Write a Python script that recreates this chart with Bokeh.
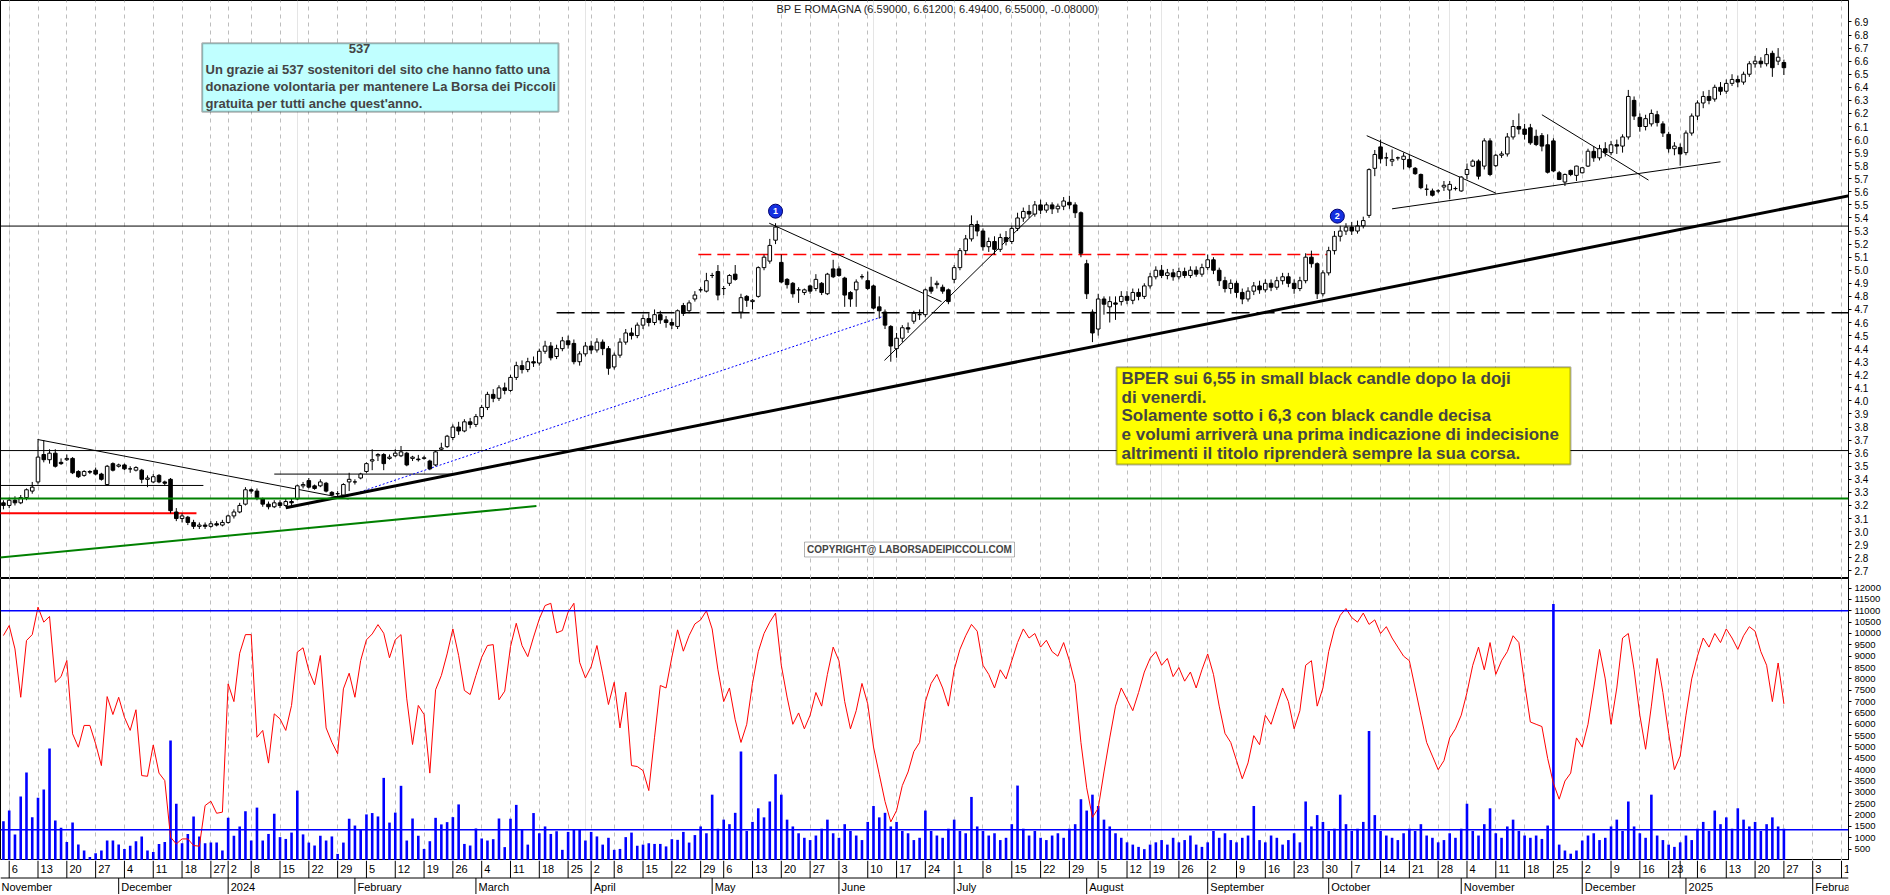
import pandas as pd
from bokeh.plotting import figure
from bokeh.models import (Range1d, FixedTicker, Grid, Span, BoxAnnotation, Label,
                          ColumnDataSource, NumeralTickFormatter)
from bokeh.layouts import column
from bokeh.embed import file_html
from bokeh.resources import INLINE
from bokeh.core.properties import value

TITLE = "BP E ROMAGNA (6.59000, 6.61200, 6.49400, 6.55000, -0.08000)"
HOLIDAYS = ["2023-12-25", "2023-12-26", "2024-01-01", "2024-03-29", "2024-04-01",
            "2024-05-01", "2024-08-15", "2024-12-24", "2024-12-25", "2024-12-26",
            "2024-12-31", "2025-01-01"]
FIRST_BAR = "2023-11-03"   # first candle; bar index 0 = 2023-11-06

# daily candles (open, high, low, close)
OHLC_2023_11 = [(3.22,3.24,3.17,3.20),(3.20,3.26,3.18,3.24),(3.24,3.27,3.20,3.22),(3.22,3.28,3.21,3.26),
    (3.26,3.33,3.24,3.32),(3.31,3.38,3.29,3.34),(3.38,3.70,3.36,3.57),(3.59,3.70,3.53,3.55),
    (3.55,3.63,3.52,3.60),(3.60,3.63,3.49,3.50),(3.53,3.56,3.51,3.52),(3.55,3.59,3.54,3.56),
    (3.56,3.57,3.44,3.45),(3.46,3.47,3.41,3.42),(3.43,3.47,3.42,3.46),(3.46,3.47,3.44,3.455),
    (3.47,3.49,3.43,3.44),(3.44,3.45,3.39,3.40),(3.36,3.51,3.35,3.50),(3.52,3.53,3.46,3.47)]
OHLC_2023_12 = [(3.50,3.52,3.49,3.51),(3.51,3.52,3.47,3.48),(3.48,3.50,3.45,3.48),(3.47,3.50,3.46,3.49),
    (3.47,3.48,3.37,3.40),(3.40,3.43,3.34,3.41),(3.38,3.44,3.37,3.42),(3.43,3.44,3.37,3.38),
    (3.38,3.39,3.35,3.37),(3.40,3.41,3.14,3.16),(3.15,3.18,3.08,3.10),(3.10,3.14,3.07,3.12),
    (3.11,3.12,3.05,3.07),(3.07,3.09,3.02,3.04),(3.04,3.07,3.02,3.05),(3.05,3.07,3.02,3.04),
    (3.04,3.08,3.03,3.06),(3.06,3.08,3.04,3.05),(3.05,3.09,3.04,3.07)]
OHLC_2024_01 = [(3.07,3.13,3.06,3.12),(3.12,3.17,3.10,3.15),(3.15,3.22,3.14,3.20),(3.21,3.34,3.20,3.32),
    (3.32,3.33,3.29,3.31),(3.31,3.33,3.24,3.26),(3.25,3.26,3.19,3.21),(3.21,3.23,3.17,3.19),
    (3.19,3.24,3.18,3.22),(3.22,3.24,3.18,3.20),(3.20,3.25,3.19,3.23),(3.23,3.25,3.20,3.22),
    (3.25,3.36,3.24,3.35),(3.35,3.38,3.33,3.36),(3.39,3.41,3.33,3.34),(3.35,3.36,3.32,3.33),
    (3.35,3.40,3.34,3.38),(3.37,3.38,3.30,3.31),(3.30,3.31,3.27,3.28),(3.29,3.31,3.27,3.29),
    (3.28,3.37,3.27,3.36),(3.38,3.45,3.31,3.40)]
OHLC_2024_02 = [(3.38,3.40,3.36,3.38),(3.41,3.45,3.40,3.44),(3.46,3.53,3.45,3.52),(3.54,3.63,3.47,3.55),
    (3.58,3.60,3.54,3.59),(3.59,3.60,3.47,3.52),(3.56,3.59,3.55,3.57),(3.58,3.63,3.57,3.60),
    (3.58,3.655,3.57,3.61),(3.60,3.61,3.50,3.51),(3.56,3.58,3.54,3.57),(3.555,3.587,3.536,3.55),
    (3.56,3.58,3.55,3.565),(3.54,3.55,3.47,3.48),(3.51,3.62,3.50,3.61),(3.63,3.68,3.62,3.64),
    (3.65,3.74,3.64,3.73),(3.72,3.82,3.70,3.80),(3.80,3.84,3.74,3.77),(3.77,3.86,3.76,3.84),
    (3.84,3.87,3.79,3.82)]
OHLC_2024_03 = [(3.82,3.90,3.80,3.88),(3.88,3.97,3.86,3.95),(3.95,4.07,3.93,4.05),(4.05,4.09,3.99,4.02),
    (4.02,4.12,4.00,4.10),(4.10,4.14,4.05,4.08),(4.08,4.20,4.07,4.18),(4.18,4.30,4.16,4.27),
    (4.27,4.31,4.21,4.24),(4.24,4.33,4.22,4.30),(4.30,4.34,4.26,4.29),(4.29,4.40,4.27,4.38),
    (4.38,4.46,4.36,4.42),(4.42,4.45,4.31,4.33),(4.34,4.43,4.32,4.40),(4.40,4.49,4.38,4.46),
    (4.46,4.50,4.40,4.43),(4.44,4.47,4.28,4.30),(4.30,4.38,4.27,4.36),(4.36,4.45,4.34,4.42)]
OHLC_2024_04 = [(4.42,4.46,4.36,4.39),(4.39,4.48,4.37,4.45),(4.45,4.47,4.35,4.40),(4.40,4.42,4.20,4.25),
    (4.26,4.37,4.24,4.35),(4.35,4.48,4.33,4.45),(4.45,4.55,4.43,4.52),(4.52,4.56,4.47,4.50),
    (4.50,4.60,4.48,4.58),(4.58,4.66,4.55,4.63),(4.63,4.67,4.57,4.60),(4.60,4.70,4.58,4.66),
    (4.66,4.69,4.59,4.62),(4.62,4.65,4.56,4.60),(4.60,4.63,4.55,4.58),(4.57,4.70,4.55,4.69),
    (4.73,4.75,4.65,4.67),(4.69,4.77,4.67,4.75),(4.78,4.84,4.76,4.81),(4.85,4.87,4.83,4.85),
    (4.84,4.98,4.83,4.92)]
OHLC_2024_05 = [(4.96,4.98,4.94,4.96),(4.99,5.04,4.77,4.81),(4.86,4.88,4.81,4.86),(4.90,4.97,4.88,4.96),
    (4.97,5.04,4.92,4.93),(4.68,4.82,4.63,4.79),(4.80,4.81,4.72,4.77),(4.76,4.78,4.70,4.77),
    (4.80,5.03,4.79,5.02),(5.02,5.12,5.00,5.10),(5.07,5.24,5.05,5.19),(5.23,5.36,5.20,5.33),
    (5.06,5.12,4.90,4.91),(4.93,4.94,4.86,4.89),(4.90,4.91,4.79,4.82),(4.85,4.87,4.75,4.85),
    (4.83,4.86,4.81,4.85),(4.88,4.89,4.82,4.84),(4.86,4.97,4.84,4.93),(4.90,4.91,4.81,4.83),
    (4.82,4.98,4.81,4.97),(5.01,5.08,4.94,4.95)]
OHLC_2024_06 = [(5.01,5.03,4.95,4.96),(4.94,4.95,4.72,4.81),(4.83,4.84,4.72,4.78),(4.85,4.93,4.72,4.91),
    (4.95,4.97,4.93,4.95),(4.92,4.99,4.85,4.86),(4.88,4.89,4.70,4.71),(4.72,4.80,4.63,4.69),
    (4.68,4.70,4.55,4.58),(4.57,4.58,4.30,4.42),(4.40,4.52,4.33,4.48),(4.48,4.58,4.45,4.56),
    (4.56,4.60,4.52,4.55),(4.61,4.69,4.59,4.67),(4.66,4.70,4.62,4.66),(4.66,4.86,4.64,4.85),
    (4.87,4.95,4.82,4.84),(4.89,4.92,4.86,4.90),(4.87,4.89,4.82,4.84),(4.85,4.86,4.74,4.76)]
OHLC_2024_07 = [(4.93,5.04,4.90,5.02),(5.02,5.17,5.00,5.15),(5.15,5.27,5.12,5.24),(5.24,5.42,5.22,5.35),
    (5.35,5.38,5.26,5.30),(5.30,5.32,5.15,5.18),(5.18,5.25,5.14,5.22),(5.22,5.26,5.12,5.16),
    (5.16,5.28,5.14,5.25),(5.25,5.30,5.19,5.22),(5.22,5.34,5.20,5.32),(5.32,5.44,5.30,5.40),
    (5.40,5.48,5.37,5.45),(5.45,5.50,5.40,5.43),(5.43,5.53,5.41,5.50),(5.50,5.54,5.43,5.46),
    (5.46,5.52,5.44,5.50),(5.50,5.52,5.43,5.47),(5.47,5.51,5.44,5.49),(5.49,5.56,5.46,5.53),
    (5.52,5.57,5.47,5.50),(5.50,5.52,5.40,5.44),(5.44,5.45,5.10,5.13)]
OHLC_2024_08 = [(5.05,5.08,4.78,4.82),(4.68,4.70,4.45,4.52),(4.55,4.82,4.50,4.78),(4.78,4.80,4.66,4.74),
    (4.72,4.80,4.60,4.76),(4.75,4.80,4.62,4.74),(4.76,4.84,4.73,4.80),(4.80,4.84,4.74,4.77),
    (4.77,4.86,4.74,4.83),(4.83,4.86,4.77,4.80),(4.80,4.90,4.78,4.88),(4.88,4.98,4.86,4.95),
    (4.95,5.03,4.93,5.00),(5.00,5.04,4.94,4.96),(4.96,5.01,4.93,4.98),(4.98,5.01,4.92,4.95),
    (4.95,5.02,4.93,4.99),(4.99,5.02,4.94,4.96),(4.96,5.03,4.94,5.00),(5.00,5.03,4.95,4.97),
    (4.97,5.05,4.95,5.02)]
OHLC_2024_09 = [(5.02,5.12,5.00,5.08),(5.08,5.10,4.97,5.00),(5.00,5.02,4.88,4.92),(4.92,4.95,4.83,4.86),
    (4.86,4.93,4.82,4.90),(4.90,4.92,4.79,4.83),(4.83,4.86,4.74,4.78),(4.78,4.87,4.76,4.84),
    (4.84,4.91,4.81,4.88),(4.88,4.92,4.82,4.85),(4.85,4.93,4.83,4.90),(4.90,4.93,4.84,4.87),
    (4.87,4.95,4.85,4.92),(4.92,4.98,4.89,4.95),(4.95,4.98,4.87,4.90),(4.90,4.93,4.82,4.86),
    (4.86,4.95,4.84,4.92),(4.92,5.13,4.90,5.10),(5.10,5.15,5.02,5.05),(5.05,5.06,4.78,4.82),
    (4.82,5.00,4.80,4.98)]
OHLC_2024_10 = [(4.98,5.18,4.96,5.15),(5.15,5.30,5.12,5.26),(5.26,5.34,5.22,5.30),(5.30,5.36,5.27,5.33),
    (5.33,5.37,5.27,5.30),(5.30,5.38,5.28,5.34),(5.34,5.41,5.32,5.38),(5.42,5.78,5.40,5.77),
    (5.78,5.92,5.72,5.886),(5.944,6.00,5.817,5.853),(5.86,5.90,5.797,5.86),(5.835,5.924,5.797,5.848),
    (5.86,5.87,5.84,5.86),(5.848,5.90,5.771,5.873),(5.848,5.886,5.78,5.79),(5.78,5.79,5.73,5.739),
    (5.733,5.74,5.62,5.632),(5.62,5.657,5.57,5.62),(5.607,5.625,5.564,5.574),(5.607,5.62,5.59,5.607),
    (5.637,5.683,5.607,5.65),(5.614,5.683,5.543,5.657),(5.625,5.64,5.61,5.625)]
OHLC_2024_11 = [(5.607,5.72,5.60,5.713),(5.733,5.817,5.695,5.771),(5.797,5.848,5.79,5.835),(5.835,5.848,5.695,5.72),
    (5.797,6.01,5.771,5.99),(5.99,6.01,5.72,5.733),(5.80,5.89,5.79,5.88),(5.88,5.91,5.86,5.89),
    (5.89,6.05,5.87,6.02),(6.02,6.15,6.00,6.10),(6.10,6.20,6.04,6.08),(6.08,6.12,6.00,6.04),
    (6.09,6.12,5.96,5.975),(6.025,6.076,5.95,5.962),(6.03,6.05,5.91,5.95),(5.96,6.04,5.74,5.75),
    (5.99,6.01,5.75,5.76),(5.746,5.76,5.69,5.695),(5.675,5.74,5.645,5.733),(5.764,5.77,5.72,5.733),
    (5.726,5.80,5.683,5.797)]
OHLC_2024_12 = [(5.746,5.79,5.74,5.784),(5.797,5.93,5.79,5.911),(5.91,5.95,5.83,5.86),(5.86,5.96,5.84,5.93),
    (5.93,5.98,5.87,5.90),(5.90,5.99,5.88,5.96),(5.96,6.00,5.89,5.95),(5.95,6.04,5.90,6.02),
    (6.02,6.38,6.00,6.33),(6.30,6.33,6.15,6.18),(6.17,6.20,6.06,6.10),(6.10,6.19,6.07,6.16),
    (6.12,6.23,6.10,6.20),(6.19,6.22,6.10,6.13),(6.12,6.14,6.02,6.05),(6.04,6.06,5.90,5.93),
    (5.93,5.98,5.88,5.95),(5.94,5.97,5.80,5.89)]
OHLC_2025_01 = [(5.90,6.07,5.88,6.05),(6.05,6.20,6.03,6.18),(6.18,6.30,6.15,6.28),(6.28,6.37,6.24,6.33),
    (6.33,6.38,6.27,6.30),(6.31,6.42,6.29,6.40),(6.40,6.44,6.34,6.37),(6.37,6.46,6.35,6.43),
    (6.43,6.50,6.41,6.46),(6.46,6.49,6.40,6.44),(6.44,6.52,6.42,6.50),(6.50,6.60,6.48,6.58),
    (6.58,6.64,6.55,6.60),(6.60,6.63,6.55,6.58),(6.58,6.70,6.56,6.65),(6.66,6.68,6.48,6.55),
    (6.60,6.70,6.57,6.63),(6.59,6.612,6.494,6.55)]

# daily volume (panel units) and the red oscillator (same scale)
VOL_2023_11 = [1730,2200,1150,2820,3880,1910,2760,3130,4930,1760,1440,810,1670,700,440,150,320,440,880,880]
VOL_2023_12 = [700,510,650,850,1060,440,370,730,820,5290,2500,760,1170,1940,1060,760,790,790,440]
VOL_2024_01 = [1880,1090,1500,2170,880,2330,880,1170,2060,1030,950,1230,3080,1150,790,660,1090,880,1060,290,790,1840]
VOL_2024_02 = [1540,1350,2030,2090,1940,3640,1670,2110,3290,880,1850,1090,510,850,1880,1590,1690,1910,2470,730,660]
VOL_2024_03 = [1410,970,880,940,1850,590,1840,2450,1350,700,2090,1200,1500,1170,1290,470,1260,1350,1350,880]
VOL_2024_04 = [1260,1060,700,1000,470,510,1030,1230,650,700,760,730,730,620,940,910,1260,790,1120,1500,1200]
VOL_2024_05 = [2900,1400,1800,1600,2100,4800,1300,1700,2300,1900,2600,3800,2900,1800,1500,1200,1000,900,1100,1400,1800,1200]
VOL_2024_06 = [1000,1600,1300,1100,900,1700,2400,1900,2100,1500,1700,1300,1200,900,1000,2200,1300,1100,1000,1400]
VOL_2024_07 = [1800,1300,1200,2800,1500,1300,1100,1200,900,1000,1600,3300,1400,1100,1300,1000,900,1100,1200,1000,1400,1600,2700]
VOL_2024_08 = [2200,2900,2400,1800,1500,1200,1000,800,700,600,500,700,800,900,700,1000,800,900,1100,700,600]
VOL_2024_09 = [800,1300,1000,1200,900,800,1000,1100,2400,900,800,1100,1000,700,900,1200,800,2600,1500,2000,1700]
VOL_2024_10 = [1300,1400,2900,1600,1300,1400,1700,5700,2000,1300,1100,1000,900,1200,1400,1300,1600,1100,1000,800,900,1200,1000]
VOL_2024_11 = [1400,2500,1300,1100,1600,2300,1200,1000,1500,1800,1300,1100,1000,1100,950,1540,11300,700,440,300,440]
VOL_2024_12 = [880,1100,1200,900,1000,1500,1800,1300,2600,1500,1200,1000,2900,1100,900,700,600,800]
VOL_2025_01 = [1100,900,1400,1700,1300,2200,1600,1900,1400,2300,1800,1500,1700,1300,1600,1900,1500,1400]

OSC_2023_11 = [9910,10350,9320,7190,9690,9950,11160,10500,10750,7850,8100,8810,5580,4990,5950,5950,5140,4180,7220,6430]
OSC_2023_12 = [7190,6310,5730,6640,3740,3710,5090,3850,3520,1030,730,950,950,660,630,2420,2610,2080,2130]
OSC_2024_01 = [7780,7000,9130,9950,9950,5430,5730,4290,6460,6240,5730,6830,9180,9370,8370,7740,9030,5840,5210,4700,7560,8250]
OSC_2024_02 = [7190,8810,9720,9980,10390,10010,8930,9720,9950,7120,5110,6830,6430,3850,7520,8150,9100,10200,9030,7490,7310]
OSC_2024_03 = [8150,8950,9470,9510,7080,7460,9420,10450,9470,8980,9840,10640,11230,11330,10030,10130,10940,11330,8730,8040]
OSC_2024_04 = [8540,9470,8220,6870,7850,5840,7410,4180,4140,3960,3080,5430,7710,7600,8950,10160,9220,9910,10420,10600,11000]
OSC_2024_05 = [10200,8400,7000,7600,6200,5200,6000,7800,9200,10000,10500,10900,8600,7200,6000,6500,5800,6400,7400,6800,8200,9400]
OSC_2024_06 = [8800,7000,5800,6600,7800,6900,5000,3800,2600,1700,2200,3300,3900,4800,5200,7000,7800,8200,7600,6800]
OSC_2024_07 = [8400,9300,9900,10400,10100,8600,8200,7600,8400,8000,8800,9600,10200,9800,10000,9400,9700,9200,9000,9600,8800,7800,5200]
OSC_2024_08 = [3200,1900,2300,3900,5400,6800,7600,7100,6600,7400,8300,8900,9200,8600,8900,8100,8500,7900,8300,7600,8400]
OSC_2024_09 = [9100,8200,6800,5600,5200,4400,3600,4300,5500,5100,6400,6000,6800,7600,7000,5800,6600,8600,8800,6800,7600]
OSC_2024_10 = [9200,10200,10800,11100,10700,10500,10900,10400,10600,10000,10300,9800,9400,9000,8800,7600,6400,5200,4600,4000,4400,5400,5800]
OSC_2024_11 = [6400,7400,8600,9400,8400,9600,8200,8800,9200,9900,9600,7800,6100,6000,5900,4500,3400,2700,3500,3850,5400]
OSC_2024_12 = [5000,6000,7600,9300,8000,6000,7600,9800,10000,8400,6400,4900,6800,8900,7400,5600,4000,4600]
OSC_2025_01 = [6400,8000,9000,9800,9400,10000,9600,10200,9800,9300,9900,10300,10100,9200,8600,7000,8700,6900]

VOL_UPPER, VOL_LOWER = 11000, 1350
PRICE_TICKS = [round(2.7 + 0.1 * i, 1) for i in range(43)]
VOL_TICKS = list(range(500, 12001, 500))

# analyst drawings: (bar index, price)
H_RESIST = 5.338
H_MID = 3.62
H_GREEN = 3.254
DASH_BLACK = ([95, 320], [4.674, 4.674])
DASH_RED = ([119.6, 229.0], [5.12, 5.12])
TL_THICK = ([48, 322], [3.182, 5.594])
TL_NOV23 = ([4.9, 58.9], [3.705, 3.249])
TL_BLUE = ([58.9, 151.9], [3.274, 4.65])
TL_MAY = ([131.9, 161.8], [5.36, 4.76])
TL_JUN = ([151.9, 178.0], [4.31, 5.44])
TL_OCT = ([235.6, 258.0], [6.03, 5.59])
TL_NOV24 = ([266.0, 284.5], [6.19, 5.69])
TL_BASE = ([240, 297], [5.47, 5.83])
GREEN_UP = ([-2, 91.5], [2.80, 3.195])
RED_H = ([-2, 32.5], [3.14, 3.14])
BLACK_H1 = ([-2, 33.7], [3.353, 3.353])
BLACK_H2 = ([46, 77], [3.44, 3.44])
MARK_X = [133.0, 230.5]
MARK_Y = [5.452, 5.414]
MARK_T = ["1", "2"]

BOX_TEXT = ["Un grazie ai 537 sostenitori del sito che hanno fatto una",
            "donazione volontaria per mantenere La Borsa dei Piccoli",
            "gratuita per tutti anche quest'anno."]
NOTE_TEXT = ["BPER sui 6,55 in small black candle dopo la doji",
             "di venerdi.",
             "Solamente sotto i 6,3 con black candle decisa",
             "e volumi arriverà una prima indicazione di indecisione",
             "altrimenti il titolo riprenderà sempre la sua corsa."]
COPY_TEXT = "COPYRIGHT@ LABORSADEIPICCOLI.COM"

# ---------------------------------------------------------------- layout
FONT = "Liberation Sans"
FW = 1848


def bx(px):
    return (px - 8.7) / 5.762


def by(py):
    return 6.9 - (py - 21.6) / 131.5


ohlc = (OHLC_2023_11 + OHLC_2023_12 + OHLC_2024_01 + OHLC_2024_02 + OHLC_2024_03 + OHLC_2024_04 +
        OHLC_2024_05 + OHLC_2024_06 + OHLC_2024_07 + OHLC_2024_08 + OHLC_2024_09 + OHLC_2024_10 +
        OHLC_2024_11 + OHLC_2024_12 + OHLC_2025_01)
vol = (VOL_2023_11 + VOL_2023_12 + VOL_2024_01 + VOL_2024_02 + VOL_2024_03 + VOL_2024_04 +
       VOL_2024_05 + VOL_2024_06 + VOL_2024_07 + VOL_2024_08 + VOL_2024_09 + VOL_2024_10 +
       VOL_2024_11 + VOL_2024_12 + VOL_2025_01)
osc = (OSC_2023_11 + OSC_2023_12 + OSC_2024_01 + OSC_2024_02 + OSC_2024_03 + OSC_2024_04 +
       OSC_2024_05 + OSC_2024_06 + OSC_2024_07 + OSC_2024_08 + OSC_2024_09 + OSC_2024_10 +
       OSC_2024_11 + OSC_2024_12 + OSC_2025_01)

X_START, X_END = bx(0), bx(FW)

cal = [d for d in pd.bdate_range("2023-10-30", "2025-02-28") if d.strftime("%Y-%m-%d") not in HOLIDAYS]
pos0 = cal.index(pd.Timestamp(FIRST_BAR)) + 1
week_ticks, week_labels, month_ticks, month_labels = [], [], [], []
pw, pm = None, None
for i, d in enumerate(cal):
    k = i - pos0
    wk = tuple(d.isocalendar())[:2]
    if wk != pw:
        week_ticks.append(k)
        week_labels.append(str(d.day))
        pw = wk
    if (d.year, d.month) != pm:
        month_ticks.append(k)
        month_labels.append(str(d.year) if d.month == 1 else d.strftime("%B"))
        pm = (d.year, d.month)

xs = [i - 1 for i in range(len(ohlc))]
o = [r[0] for r in ohlc]
h = [r[1] for r in ohlc]
l = [r[2] for r in ohlc]
c = [r[3] for r in ohlc]
up = [ci >= oi for oi, ci in zip(o, c)]


def body_src(flag):
    sel = [(x, max(a, b), min(a, b)) for x, a, b, u in zip(xs, o, c, up) if u == flag]
    return ColumnDataSource(dict(x=[s[0] for s in sel], top=[s[1] for s in sel], bottom=[s[2] for s in sel]))


src_up, src_dn = body_src(True), body_src(False)
xr = Range1d(X_START, X_END)


def style_axis(p, ticks, fmt, fs):
    ax = p.yaxis[0]
    ax.ticker = FixedTicker(ticks=ticks)
    ax.formatter = NumeralTickFormatter(format=fmt)
    ax.major_label_text_font = FONT
    ax.major_label_text_font_size = fs
    ax.major_label_text_color = "black"
    ax.major_label_standoff = 3
    ax.major_tick_out = 3
    ax.major_tick_in = 0
    ax.minor_tick_out = 0
    ax.minor_tick_in = 0
    ax.axis_line_color = "black"
    p.ygrid.visible = False
    p.add_layout(Grid(dimension=0, ticker=FixedTicker(ticks=week_ticks), grid_line_color="#bdbdbd",
                      grid_line_dash="4 4", grid_line_width=1))


def base_fig(h_px, yr):
    p = figure(frame_width=FW, frame_height=h_px, x_range=xr, y_range=yr, output_backend="svg",
               toolbar_location=None, y_axis_location="right", x_axis_location=None,
               min_border_left=0, min_border_top=0, min_border_bottom=0, min_border_right=0)
    p.outline_line_color = "black"
    p.outline_line_width = 1
    p.background_fill_color = "white"
    p.border_fill_color = "white"
    return p


# ---------------- price panel
p = base_fig(578, Range1d(2.641, by(0)))
style_axis(p, PRICE_TICKS, "0.0", "10px")

for loc, col, w in [(H_RESIST, "black", 1), (H_MID, "black", 1), (H_GREEN, "#008000", 2)]:
    p.add_layout(Span(location=loc, dimension="width", line_color=col, line_width=w))
p.line(*DASH_BLACK, line_color="black", line_width=1.5, line_dash="18 7")
p.line(*DASH_RED, line_color="#ff0000", line_width=1.5, line_dash="13 6")
p.line(*GREEN_UP, line_color="#008000", line_width=2)
p.line(*RED_H, line_color="#ff0000", line_width=2)
p.line(*BLACK_H1, line_color="black", line_width=1)
p.line(*BLACK_H2, line_color="black", line_width=1)
p.line(*TL_BLUE, line_color="#0000ff", line_width=1, line_dash="2 2")
p.line(*TL_THICK, line_color="black", line_width=3)
for tl in (TL_NOV23, TL_MAY, TL_JUN, TL_OCT, TL_NOV24, TL_BASE):
    p.line(*tl, line_color="black", line_width=1)

p.segment(x0=xs, y0=l, x1=xs, y1=h, line_color="black", line_width=1)
p.vbar(x="x", top="top", bottom="bottom", width=0.62, source=src_up, fill_color="white", line_color="black", line_width=1)
p.vbar(x="x", top="top", bottom="bottom", width=0.62, source=src_dn, fill_color="black", line_color="black", line_width=1)

p.scatter(MARK_X, MARK_Y, size=14, marker="circle", fill_color="#1530e0", line_color="#000070", line_width=1)
p.text(MARK_X, MARK_Y, text=MARK_T, text_color="white", text_font=value(FONT), text_font_style="bold",
       text_font_size="9px", text_align="center", text_baseline="middle")

p.add_layout(Label(x=bx(776), y=by(3), text=TITLE, text_font=FONT, text_font_size="11px",
                   text_color="#222222", text_baseline="top"))

p.add_layout(BoxAnnotation(left=bx(201.7), right=bx(558), top=by(43), bottom=by(112),
                           fill_color="#c0ffff", fill_alpha=1, line_color="black", line_width=2))
p.add_layout(Label(x=bx(359), y=by(44), text="537", text_font=FONT, text_font_size="13px",
                   text_font_style="bold", text_align="center", text_baseline="top"))
for k, t in enumerate(BOX_TEXT):
    p.add_layout(Label(x=bx(205), y=by(61.5 + 17.5 * k), text=t, text_font=FONT, text_font_size="13px",
                       text_font_style="bold", text_baseline="top"))

p.add_layout(BoxAnnotation(left=bx(1116), right=bx(1570), top=by(369), bottom=by(467),
                           fill_color="#ffff00", fill_alpha=1, line_color="black", line_width=2))
for k, t in enumerate(NOTE_TEXT):
    p.add_layout(Label(x=bx(1121), y=by(370.5 + 19 * k), text=t, text_font=FONT, text_font_size="17px",
                       text_font_style="bold", text_baseline="top"))

p.add_layout(BoxAnnotation(left=bx(804), right=bx(1014), top=by(545), bottom=by(560),
                           fill_color="white", fill_alpha=1, line_color="black", line_width=1))
p.add_layout(Label(x=bx(909), y=by(552.5), text=COPY_TEXT, text_font=FONT, text_font_size="10px",
                   text_font_style="bold", text_align="center", text_baseline="middle"))

# ---------------- volume / oscillator panel
q = base_fig(282, Range1d(0, 282 * 44.05))
style_axis(q, VOL_TICKS, "0", "9.5px")
xv = xs[:len(vol)]
q.vbar(x=xv, top=vol[:len(xv)], bottom=0, width=0.45, fill_color="#0000ff", line_color=None)
q.add_layout(Span(location=VOL_UPPER, dimension="width", line_color="#0000ff", line_width=1.5))
q.add_layout(Span(location=VOL_LOWER, dimension="width", line_color="#0000ff", line_width=1.5))
xo = xs[:len(osc)]
q.line(xo, osc[:len(xo)], line_color="#ff0000", line_width=1)

# ---------------- date rows
a = figure(frame_width=FW, frame_height=34, x_range=xr, y_range=Range1d(0, 34), output_backend="svg",
           toolbar_location=None, x_axis_location=None, y_axis_location=None,
           min_border_left=0, min_border_top=0, min_border_bottom=0, min_border_right=38)
a.outline_line_color = None
a.border_fill_color = "white"
a.xgrid.visible = False
a.ygrid.visible = False
a.add_layout(Span(location=16.5, dimension="width", line_color="black", line_width=1))
vis_w = [(w, t) for w, t in zip(week_ticks, week_labels) if X_START <= w <= X_END]
a.segment(x0=[w for w, _ in vis_w], y0=16.5, x1=[w for w, _ in vis_w], y1=34, line_color="black", line_width=1)
last = -99
for w, t in vis_w:
    if w - last >= 3:
        a.add_layout(Label(x=w + 0.45, y=25.5, text=t, text_font=FONT, text_font_size="11px",
                           text_align="left", text_baseline="middle", text_color="black"))
        last = w
month_next = month_ticks[1:] + [10 ** 6]
vis_m = [(m, t) for m, t, nx in zip(month_ticks, month_labels, month_next) if m <= X_END and nx > X_START]
a.segment(x0=[m for m, _ in vis_m], y0=0, x1=[m for m, _ in vis_m], y1=16.5, line_color="black", line_width=1)
for m, t in vis_m:
    a.add_layout(Label(x=max(m + 0.45, bx(1)), y=8, text=t, text_font=FONT, text_font_size="11px",
                       text_align="left", text_baseline="middle", text_color="black"))

layout = column(p, q, a, spacing=0)
open("out.html", "w").write(file_html(layout, INLINE))
